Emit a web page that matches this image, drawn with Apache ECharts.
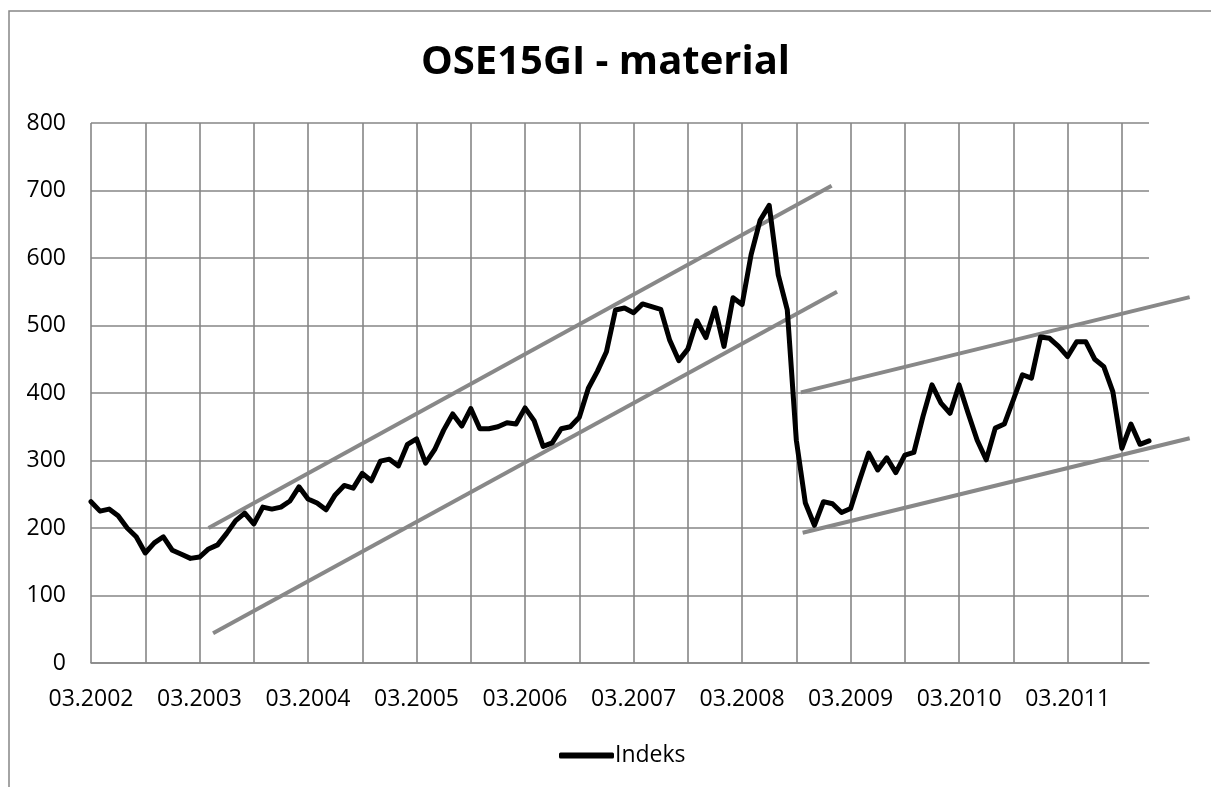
<!DOCTYPE html>
<html>
<head>
<meta charset="utf-8">
<script src="https://cdn.jsdelivr.net/npm/echarts@6/dist/echarts.min.js"></script>
<style>
html,body{margin:0;padding:0;background:#fff;}
#chart{width:1211px;height:787px;}
</style>
</head>
<body>
<div id="chart"></div>
<script>
// Monthly categories 03.2002 .. 12.2011
var startYear = 2002, startMonth = 3, monthCount = 118;
var categories = [];
for (var i = 0; i < monthCount; i++) {
  var m = (startMonth - 1 + i) % 12 + 1;
  var y = startYear + Math.floor((startMonth - 1 + i) / 12);
  categories.push((m < 10 ? '0' + m : '' + m) + '.' + y);
}

var indeks = [
  239, 225, 228, 218, 200, 187, 163, 178, 187, 167, 161, 155,
  157, 169, 175, 192, 211, 222, 206, 231, 228, 231, 240, 261,
  243, 237, 227, 249, 263, 259, 281, 270, 299, 302, 292, 324,
  332, 296, 316, 345, 369, 351, 377, 347, 347, 350, 356, 354,
  378, 359, 321, 326, 347, 350, 364, 407, 432, 461, 523, 526,
  519, 532, 528, 524, 478, 448, 465, 507, 482, 526, 469, 541,
  531, 605, 656, 678, 575, 523, 330, 237, 204, 239, 236, 223,
  229, 271, 311, 286, 304, 282, 308, 312, 365, 412, 385, 370,
  412, 370, 330, 301, 348, 354, 390, 427, 422, 483, 481, 469,
  454, 476, 476, 450, 439, 402, 318, 354, 324, 329
];

// Hand-drawn trend channel lines: [month index, value] endpoints
var trendUpper1 = [[13, 200], [81.9, 707]];
var trendLower1 = [[13.5, 44], [82.5, 550]];
var trendUpper2 = [[78.5, 401], [121.5, 542]];
var trendLower2 = [[78.7, 193], [121.5, 333]];

var yTicks = { min: 0, max: 800, interval: 100 };

var FONT = 'Open Sans';
var GRID_COLOR = '#868686';
var TREND_COLOR = '#888888';

// layout
var W = 1211, GL = 91, GR = 62, GT = 123, GB = 124;
var plotW = W - GL - GR;
var overlayR = 8; // wider overlay grid so trend lines can run past the plot
var overlayMax = (monthCount - 1) * (W - GL - overlayR) / plotW;

function trendSeries(data) {
  return {
    type: 'line', xAxisIndex: 1, yAxisIndex: 1, data: data,
    symbol: 'none', silent: true, z: 3,
    lineStyle: { color: TREND_COLOR, width: 4, cap: 'butt' }
  };
}

var chart = echarts.init(document.getElementById('chart'), null, { renderer: 'canvas' });
chart.setOption({
  animation: false,
  backgroundColor: '#ffffff',
  textStyle: { fontFamily: FONT },
  title: {
    text: 'OSE15GI - material',
    left: 'center', top: 38,
    textStyle: { fontFamily: FONT, fontSize: 40, fontWeight: 'bold', color: '#000' }
  },
  graphic: [{
    type: 'rect', z: -10, silent: true,
    shape: { x: 9, y: 11, width: 1400, height: 1000 },
    style: { fill: 'none', stroke: GRID_COLOR, lineWidth: 1.5 }
  }],
  legend: {
    data: ['Indeks'], left: 554, top: 739,
    icon: 'roundRect',
    itemWidth: 55, itemHeight: 6, itemGap: 4,
    textStyle: { fontFamily: FONT, fontSize: 23, color: '#000', padding: [0, 0, 0, -4] }
  },
  grid: [
    { left: GL, right: GR, top: GT, bottom: GB, containLabel: false },
    { left: GL, right: overlayR, top: GT, bottom: GB, containLabel: false }
  ],
  xAxis: [{
    type: 'category', gridIndex: 0, data: categories, boundaryGap: false,
    axisLine: { show: true, lineStyle: { color: GRID_COLOR, width: 1.6 } },
    axisTick: { show: false, interval: 5 },
    axisLabel: { interval: 11, margin: 25, fontFamily: FONT, fontSize: 23, color: '#000' },
    splitLine: { show: true, interval: 5, lineStyle: { color: GRID_COLOR, width: 1.6 } }
  }, {
    type: 'value', gridIndex: 1, min: 0, max: overlayMax, show: false,
    splitLine: { show: false }
  }],
  yAxis: [{
    type: 'value', gridIndex: 0, min: yTicks.min, max: yTicks.max, interval: yTicks.interval,
    axisLine: { show: false }, axisTick: { show: false },
    axisLabel: { margin: 25, fontFamily: FONT, fontSize: 23, color: '#000' },
    splitLine: { show: true, lineStyle: { color: GRID_COLOR, width: 1.6 } }
  }, {
    type: 'value', gridIndex: 1, min: yTicks.min, max: yTicks.max, interval: yTicks.interval,
    show: false, splitLine: { show: false }
  }],
  series: [
    trendSeries(trendUpper1),
    trendSeries(trendLower1),
    trendSeries(trendUpper2),
    trendSeries(trendLower2),
    {
      name: 'Indeks', type: 'line', data: indeks, symbol: 'none', z: 4,
      itemStyle: { color: '#000' },
      lineStyle: { color: '#000', width: 5, join: 'round', cap: 'round' }
    }
  ]
});
</script>
</body>
</html>
